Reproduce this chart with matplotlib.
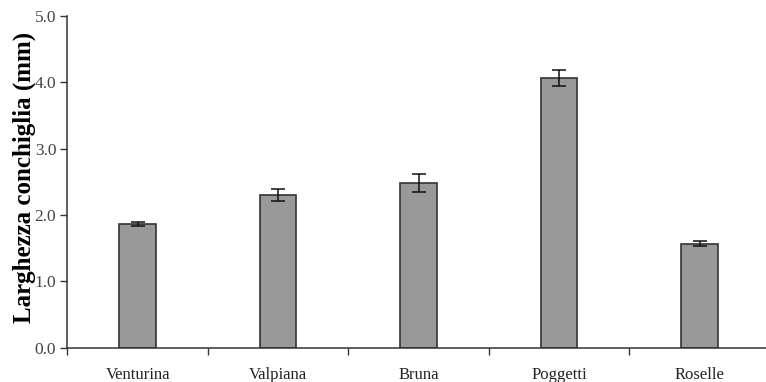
import matplotlib.pyplot as plt
from matplotlib.ticker import MultipleLocator, FixedLocator, NullFormatter

# shell width per site (mm), mean and error
sites = ["Venturina", "Valpiana", "Bruna", "Poggetti", "Roselle"]
larghezza = [1.87, 2.30, 2.48, 4.07, 1.57]
errore = [0.03, 0.09, 0.14, 0.12, 0.04]

plt.rcParams['font.family'] = ['Liberation Serif', 'DejaVu Serif']

fig = plt.figure(figsize=(7.66, 3.82), dpi=100)
ax = fig.add_axes([0.088, 0.090, 0.912, 0.868])

x = list(range(len(sites)))
ax.bar(x, larghezza, width=0.26, color='#999999', edgecolor='#333333',
       linewidth=1.2, zorder=2)
ax.errorbar(x, larghezza, yerr=errore, fmt='none', ecolor='#111111',
            elinewidth=1.1, capsize=5, capthick=1.1, zorder=3)

ax.set_xlim(-0.5, 4.473)
ax.set_ylim(0, 5)

ax.yaxis.set_major_locator(MultipleLocator(1.0))
ax.set_yticklabels(["%.1f" % v for v in ax.get_yticks()])
ax.tick_params(axis='y', direction='out', length=5, width=1, color='#333333',
               labelsize=12.5, labelcolor='#444444', pad=3)

ax.set_xticks(x)
ax.set_xticklabels(sites)
ax.xaxis.set_minor_locator(FixedLocator([-0.5, 0.5, 1.5, 2.5, 3.5]))
ax.xaxis.set_minor_formatter(NullFormatter())
ax.tick_params(axis='x', which='major', length=0, labelsize=12,
               labelcolor='#222222', pad=14)
ax.tick_params(axis='x', which='minor', direction='out', length=5, width=1,
               color='#333333')

for s in ['top', 'right']:
    ax.spines[s].set_visible(False)
for s in ['left', 'bottom']:
    ax.spines[s].set_color('#333333')
    ax.spines[s].set_linewidth(1.1)

ax.set_ylabel("Larghezza conchiglia (mm)", fontsize=18, fontweight='bold')
ax.yaxis.set_label_coords(-0.045, 0.512)

fig.savefig("out.png", dpi=100)
